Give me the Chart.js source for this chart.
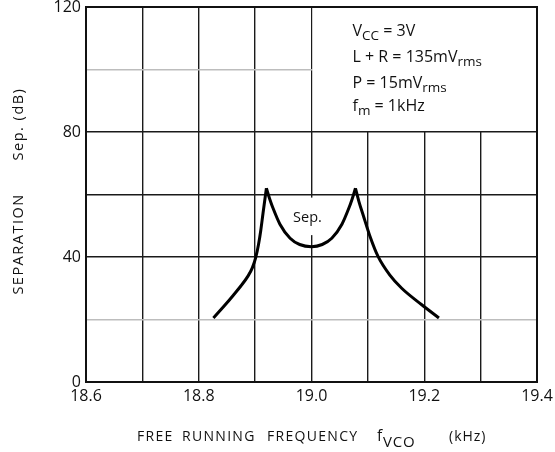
<!DOCTYPE html>
<html>
<head>
<meta charset="utf-8">
<script src="https://cdn.jsdelivr.net/npm/chart.js@4.4.0/dist/chart.umd.min.js"></script>
<style>
  html, body { margin: 0; padding: 0; background: #fff; }
  #wrap { width: 555px; height: 452px; }
</style>
</head>
<body>
<div id="wrap"><canvas id="c" width="555" height="452"></canvas></div>
<script>
// ---- data ----
const freqKHz = [18.826, 18.845, 18.861, 18.875, 18.887, 18.895, 18.901, 18.906, 18.910, 18.914, 18.920,
                 18.926, 18.932, 18.944, 18.962, 18.979, 19.000, 19.019, 19.036, 19.054, 19.066, 19.072,
                 19.078, 19.084, 19.092, 19.104, 19.118, 19.139, 19.160, 19.195, 19.226];
const separationDB = [20.5, 24.3, 27.7, 30.8, 33.8, 36.5, 39.8, 44, 48.5, 54, 62,
                      58.5, 55.5, 50.5, 46, 44, 43.3, 44, 46, 50.5, 55.5, 58.5,
                      62, 57.8, 53.2, 46.5, 40.2, 34.2, 30, 24.8, 20.5];
const xGridValues = [18.6, 18.7, 18.8, 18.9, 19.0, 19.1, 19.2, 19.3, 19.4];
const xTickLabels = ['18.6', '', '18.8', '', '19.0', '', '19.2', '', '19.4'];
const yGridValues = [0, 20, 40, 60, 80, 100, 120];
const yTickLabels = ['0', '', '40', '', '80', '', '120'];
const yMinorValues = [20, 100];
const conditions = [
  [['V', false], ['CC', true], [' = 3V', false]],
  [['L + R = 135mV', false], ['rms', true]],
  [['P = 15mV', false], ['rms', true]],
  [['f', false], ['m', true], [' = 1kHz', false]]
];

const FONT = '"Open Sans", "DejaVu Sans", sans-serif';

// split the curve at its two cusps (local maxima) so each branch is smoothed separately
const pts = freqKHz.map((f, i) => ({ x: f, y: separationDB[i] }));
const cusps = [];
for (let i = 1; i < pts.length - 1; i++) {
  if (pts[i].y > pts[i - 1].y && pts[i].y > pts[i + 1].y) cusps.push(i);
}
const bounds = [0, ...cusps, pts.length - 1];
const branches = [];
for (let k = 0; k < bounds.length - 1; k++) branches.push(pts.slice(bounds[k], bounds[k + 1] + 1));

function drawRuns(ctx, runs, x, y, size, subSize, subDy) {
  let cx = x;
  for (const [t, sub] of runs) {
    ctx.font = (sub ? subSize : size) + 'px ' + FONT;
    ctx.fillText(t, cx, sub ? y + subDy : y);
    cx += ctx.measureText(t).width;
  }
}

const decor = {
  id: 'decor',
  beforeDatasetsDraw(chart) {
    const { ctx, chartArea: a, scales: { x, y } } = chart;
    ctx.save();
    ctx.fillStyle = '#fff';
    const bx = x.getPixelForValue(19.0), by = y.getPixelForValue(80);
    ctx.fillRect(bx + 1, a.top, a.right - bx - 1, by - a.top - 1);
    const y1 = y.getPixelForValue(59), y2 = y.getPixelForValue(47);
    ctx.fillRect(bx - 18, y1, 32, y2 - y1);
    ctx.fillStyle = '#111';
    ctx.font = '14.5px ' + FONT;
    ctx.textAlign = 'center';
    ctx.textBaseline = 'alphabetic';
    ctx.fillText('Sep.', bx - 4, y.getPixelForValue(52.5) + 4);
    ctx.restore();
  },
  afterDatasetsDraw(chart) {
    const { ctx, chartArea: a, scales: { x, y } } = chart;
    ctx.save();
    ctx.strokeStyle = '#111';
    ctx.lineWidth = 2;
    ctx.strokeRect(a.left, a.top, a.right - a.left, a.bottom - a.top);
    ctx.fillStyle = '#111';
    ctx.textAlign = 'left';
    ctx.textBaseline = 'alphabetic';
    const tx = x.getPixelForValue(19.0) + 41;
    const bl = [36, 62, 87.5, 111];
    conditions.forEach((runs, i) => {
      drawRuns(ctx, runs, tx, bl[i], 16, 13.5, 4);
    });
    // x title
    ctx.letterSpacing = '1.3px';
    ctx.font = '14px ' + FONT;
    ctx.fillText('FREE', 137, 441);
    ctx.fillText('RUNNING', 182, 441);
    ctx.fillText('FREQUENCY', 267, 441);
    ctx.letterSpacing = '0.8px';
    drawRuns(ctx, [['f', false], ['VCO', true]], 377, 441, 15.5, 15, 6);
    ctx.letterSpacing = '1px';
    ctx.font = '14px ' + FONT;
    ctx.fillText('(kHz)', 449, 441);
    // y title
    ctx.letterSpacing = '1.5px';
    ctx.translate(23, 0);
    ctx.rotate(-Math.PI / 2);
    ctx.textAlign = 'center';
    ctx.font = '14.5px ' + FONT;
    ctx.fillText('SEPARATION', -244, 0);
    ctx.fillText('Sep.', -143, 0);
    ctx.fillText('(dB)', -104, 0);
    ctx.restore();
  }
};

new Chart(document.getElementById('c'), {
  type: 'line',
  data: {
    datasets: branches.map(b => ({
      data: b,
      borderColor: '#000',
      borderWidth: 3,
      borderJoinStyle: 'round',
      borderCapStyle: 'butt',
      pointRadius: 0,
      cubicInterpolationMode: 'monotone',
      fill: false
    }))
  },
  options: {
    responsive: false,
    animation: false,
    layout: { padding: { top: 7, right: 18, left: 0, bottom: 0 } },
    plugins: { legend: { display: false }, tooltip: { enabled: false } },
    scales: {
      x: {
        type: 'linear',
        min: 18.6, max: 19.4,
        afterBuildTicks(s) { s.ticks = xGridValues.map(v => ({ value: v })); },
        afterFit(s) { s.height = 70; s.paddingLeft = 0; s.paddingRight = 0; },
        ticks: {
          autoSkip: false, maxRotation: 0, padding: 5,
          color: '#111', font: { family: FONT, size: 16 },
          callback(v, i) { return xTickLabels[i]; }
        },
        grid: { color: '#1a1a1a', lineWidth: 1.4, drawTicks: false },
        border: { display: false }
      },
      y: {
        min: 0, max: 120,
        afterBuildTicks(s) { s.ticks = yGridValues.map(v => ({ value: v })); },
        afterFit(s) { s.width = 86; s.paddingTop = 0; s.paddingBottom = 0; },
        ticks: {
          autoSkip: false, padding: 5,
          color: '#111', font: { family: FONT, size: 16 },
          callback(v, i) { return yTickLabels[i]; }
        },
        grid: {
          drawTicks: false,
          color: c => yMinorValues.includes(c.tick && c.tick.value) ? '#bdbdbd' : '#1a1a1a',
          lineWidth: c => yMinorValues.includes(c.tick && c.tick.value) ? 1.6 : 1.4
        },
        border: { display: false }
      }
    }
  },
  plugins: [decor]
});
</script>
</body>
</html>
